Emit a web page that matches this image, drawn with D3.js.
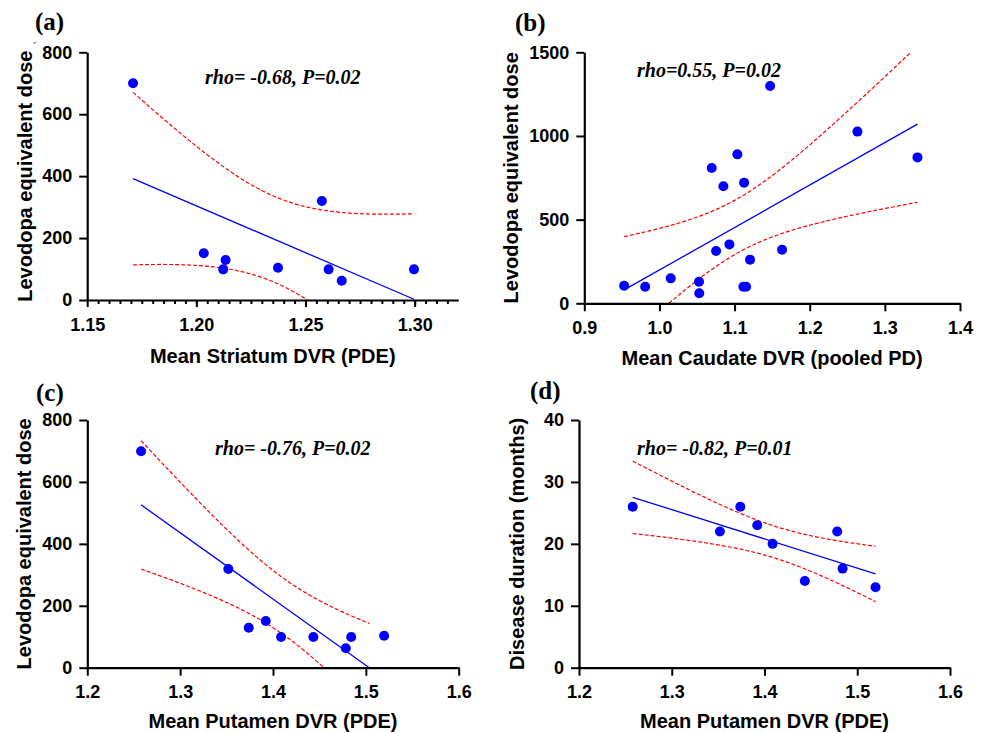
<!DOCTYPE html>
<html>
<head>
<meta charset="utf-8">
<script src="https://cdn.jsdelivr.net/npm/d3@7"></script>
<style>
  html, body { margin: 0; padding: 0; background: #fff; }
  svg { display: block; }
  .tick text { font-family: "Liberation Sans", Arial, sans-serif; font-weight: bold; font-size: 18px; fill: #000; }
</style>
</head>
<body>
<svg id="chart" width="984" height="733"></svg>
<script>
// ---------------- DATA ----------------
const striatumDVR = [1.171, 1.2575, 1.2034, 1.2134, 1.2123, 1.2374, 1.2606, 1.2666, 1.2997];
const ledStriatum = [700, 320, 151, 129, 99, 104, 99, 62, 99];

const caudateDVR = [0.953, 0.981, 1.015, 1.0527, 1.053, 1.0754, 1.0931, 1.0696, 1.0851,
                    1.1037, 1.1127, 1.1206, 1.1117, 1.1153, 1.1473, 1.1632, 1.2635, 1.3434];
const ledCaudate = [105, 99, 149, 129, 60, 313, 352, 809, 699, 890, 721, 261, 99, 99, 1299, 320, 1026, 872];

const putamenDVR = [1.2579, 1.3519, 1.3739, 1.3922, 1.4087, 1.4435, 1.4784, 1.4842, 1.5197];
const ledPutamen = [699, 319, 129, 151, 99, 99, 63, 99, 103];
const diseaseDuration = [26, 22, 26, 23, 20, 14, 22, 16, 13];

const xTicksA = [1.15, 1.20, 1.25, 1.30];
const xTicksB = [0.9, 1.0, 1.1, 1.2, 1.3, 1.4];
const xTicksCD = [1.2, 1.3, 1.4, 1.5, 1.6];
const yTicksLed = [0, 200, 400, 600, 800];
const yTicksB = [0, 500, 1000, 1500];
const yTicksD = [0, 10, 20, 30, 40];

const panelLabels = ["(a)", "(b)", "(c)", "(d)"];
const annotations = ["rho= -0.68, P=0.02", "rho=0.55, P=0.02", "rho= -0.76, P=0.02", "rho= -0.82, P=0.01"];
const xTitles = ["Mean Striatum DVR (PDE)", "Mean Caudate DVR (pooled PD)", "Mean Putamen DVR (PDE)", "Mean Putamen DVR (PDE)"];
const yTitles = ["Levodopa equivalent dose", "Levodopa equivalent dose", "Levodopa equivalent dose", "Disease duration (months)"];

// two-sided 95% t critical values by degrees of freedom
const tCrit = {7: 2.3646, 16: 2.1199};

// ---------------- DRAW ----------------
const svg = d3.select("#chart");
svg.append("rect").attr("width", 984).attr("height", 733).attr("fill", "#fff");

const panels = [
  { xs: striatumDVR, ys: ledStriatum, xDomain: [1.15, 1.32], yDomain: [0, 800],
    left: 87.2, right: 458.3, top: 52.3, bottom: 300,
    xTicks: xTicksA, xFmt: d3.format(".2f"), minor: d3.range(1.155, 1.3151, 0.005), yTicks: yTicksLed,
    label: [35, 30], ann: [205, 84], yTitleX: 25, xTitleY: 363 },
  { xs: caudateDVR, ys: ledCaudate, xDomain: [0.9, 1.4], yDomain: [0, 1500],
    left: 584.3, right: 960, top: 52.3, bottom: 303.3,
    xTicks: xTicksB, xFmt: d3.format(".1f"), minor: null, yTicks: yTicksB,
    label: [515, 31], ann: [637, 77], yTitleX: 511, xTitleY: 365 },
  { xs: putamenDVR, ys: ledPutamen, xDomain: [1.2, 1.6], yDomain: [0, 800],
    left: 87.3, right: 458.7, top: 420, bottom: 667.7,
    xTicks: xTicksCD, xFmt: d3.format(".1f"), minor: null, yTicks: yTicksLed,
    label: [36, 401], ann: [215, 455], yTitleX: 23.5, xTitleY: 728 },
  { xs: putamenDVR, ys: diseaseDuration, xDomain: [1.2, 1.6], yDomain: [0, 40],
    left: 579, right: 950, top: 420, bottom: 667.7,
    xTicks: xTicksCD, xFmt: d3.format(".1f"), minor: null, yTicks: yTicksD,
    label: [530, 399], ann: [637, 455], yTitleX: 517, xTitleY: 728 }
];

panels.forEach((p, i) => {
  const g = svg.append("g");
  const x = d3.scaleLinear().domain(p.xDomain).range([p.left, p.right]);
  const y = d3.scaleLinear().domain(p.yDomain).range([p.bottom, p.top]);

  const clipId = "clip" + i;
  svg.append("clipPath").attr("id", clipId).append("rect")
    .attr("x", p.left).attr("y", p.top).attr("width", p.right - p.left).attr("height", p.bottom - p.top);

  // linear regression with 95% confidence band, derived from the data
  const n = p.xs.length;
  const mx = d3.mean(p.xs), my = d3.mean(p.ys);
  let sxx = 0, sxy = 0;
  for (let k = 0; k < n; k++) { sxx += (p.xs[k] - mx) ** 2; sxy += (p.xs[k] - mx) * (p.ys[k] - my); }
  const b = sxy / sxx;
  const fit = v => my + b * (v - mx);
  let sse = 0;
  for (let k = 0; k < n; k++) sse += (p.ys[k] - fit(p.xs[k])) ** 2;
  const s = Math.sqrt(sse / (n - 2));
  const t = tCrit[n - 2];
  const half = v => t * s * Math.sqrt(1 / n + (v - mx) ** 2 / sxx);

  let x0 = d3.min(p.xs), x1 = d3.max(p.xs);
  if (b < 0) { const xz = mx + (p.yDomain[0] - my) / b; if (xz < x1) x1 = xz; }
  const xsFit = d3.range(0, 201).map(k => x0 + (x1 - x0) * k / 200);

  const line = d3.line().x(d => x(d[0])).y(d => y(d[1]));
  const bands = g.append("g").attr("clip-path", `url(#${clipId})`);
  bands.append("path").datum(xsFit.map(v => [v, fit(v) + half(v)]))
    .attr("d", line).attr("fill", "none").attr("stroke", "#ff0000").attr("stroke-width", 1.2).attr("stroke-dasharray", "4,2");
  bands.append("path").datum(xsFit.map(v => [v, fit(v) - half(v)]))
    .attr("d", line).attr("fill", "none").attr("stroke", "#ff0000").attr("stroke-width", 1.2).attr("stroke-dasharray", "4,2");
  bands.append("path").datum([[x0, fit(x0)], [x1, fit(x1)]])
    .attr("d", line).attr("fill", "none").attr("stroke", "#0000ff").attr("stroke-width", 1.3);

  // points
  g.append("g").selectAll("circle").data(p.xs.map((v, k) => [v, p.ys[k]])).join("circle")
    .attr("cx", d => x(d[0])).attr("cy", d => y(d[1])).attr("r", 5).attr("fill", "#0000ff");

  // axes
  const xAxisG = g.append("g").attr("transform", `translate(0,${p.bottom})`);
  if (p.minor) {
    xAxisG.append("g").call(d3.axisBottom(x).tickValues(p.minor).tickSize(4).tickSizeOuter(0).tickFormat(""))
      .call(a => a.select(".domain").remove())
      .call(a => a.selectAll("line").attr("stroke", "#000").attr("stroke-width", 2));
  }
  xAxisG.append("g").call(d3.axisBottom(x).tickValues(p.xTicks).tickFormat(p.xFmt)
      .tickSize(p.minor ? 7 : 8).tickPadding(p.minor ? 11 : 10).tickSizeOuter(0))
    .call(a => a.select(".domain").attr("stroke", "#000").attr("stroke-width", 2.2))
    .call(a => a.selectAll("line").attr("stroke", "#000").attr("stroke-width", 2))
    .call(a => a.selectAll("text").attr("font-family", null).attr("font-size", null));

  g.append("g").attr("transform", `translate(${p.left},0)`)
    .call(d3.axisLeft(y).tickValues(p.yTicks).tickFormat(d3.format("d")).tickSize(8).tickPadding(7).tickSizeOuter(0))
    .call(a => a.select(".domain").attr("stroke", "#000").attr("stroke-width", 2.2))
    .call(a => a.selectAll("line").attr("stroke", "#000").attr("stroke-width", 2))
    .call(a => a.selectAll("text").attr("font-family", null).attr("font-size", null));

  // titles
  g.append("text").attr("x", (p.left + p.right) / 2).attr("y", p.xTitleY)
    .attr("text-anchor", "middle").attr("font-family", "Liberation Sans, Arial, sans-serif")
    .attr("font-weight", "bold").attr("font-size", 20).text(xTitles[i]);
  g.append("text").attr("transform", `translate(${p.yTitleX},${(p.top + p.bottom) / 2}) rotate(-90)`)
    .attr("text-anchor", "middle").attr("dy", "0.36em").attr("font-family", "Liberation Sans, Arial, sans-serif")
    .attr("font-weight", "bold").attr("font-size", 20).text(yTitles[i]);

  // panel label
  g.append("text").attr("x", p.label[0]).attr("y", p.label[1])
    .attr("font-family", "Liberation Serif, Times New Roman, serif").attr("font-weight", "bold")
    .attr("font-size", 25).text(panelLabels[i]);

  // annotation
  g.append("text").attr("x", p.ann[0]).attr("y", p.ann[1])
    .attr("font-family", "Liberation Serif, Times New Roman, serif").attr("font-weight", "bold")
    .attr("font-style", "italic").attr("font-size", 20).text(annotations[i]);
});

// small stray mark visible near the top of panel (a)'s y-axis title
svg.append("text").attr("x", 33).attr("y", 52).attr("font-family", "Liberation Sans, Arial, sans-serif")
  .attr("font-size", 12).attr("fill", "#444").text("´");
</script>
</body>
</html>
